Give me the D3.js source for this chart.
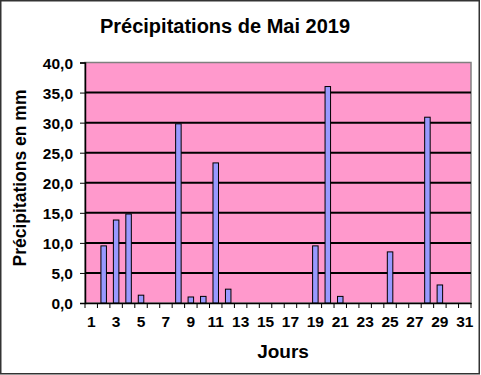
<!DOCTYPE html>
<html>
<head>
<meta charset="utf-8">
<script src="https://cdn.jsdelivr.net/npm/d3@7"></script>
<style>
  body { margin: 0; background: #fff; }
  text { font-family: "Liberation Sans", Arial, sans-serif; font-weight: bold; fill: #000; }
</style>
</head>
<body>
<script>
const days = d3.range(1, 32)
const rain = [0, 9.5, 13.8, 14.8, 1.3, 0, 0, 29.8, 1.0, 1.1, 23.3, 2.3, 0, 0, 0, 0, 0, 0, 9.5, 36.0,
    1.1, 0, 0, 0, 8.5, 0, 0, 30.9, 3.0, 0, 0]
const yTicks = [0, 5, 10, 15, 20, 25, 30, 35, 40]

const w = 481
const h = 375
const plotL = 85, plotR = 471, plotT = 62.5, plotB = 303

const svg = d3.select('body')
    .append('svg')
    .attr('width', w)
    .attr('height', h)

svg.append('rect')
    .attr('x', 0.75).attr('y', 0.75)
    .attr('width', 478.5).attr('height', 373)
    .attr('fill', '#fff')
    .attr('stroke', '#333')
    .attr('stroke-width', 1.5)

const xb = d3.scaleBand().domain(days).range([plotL, plotR])
const y = d3.scaleLinear().domain([0, 40]).range([plotB, plotT])

// plot area
svg.append('rect')
    .attr('x', plotL).attr('y', plotT)
    .attr('width', plotR - plotL).attr('height', plotB - plotT)
    .attr('fill', '#FF99CC')
    .attr('stroke', '#808080')
    .attr('stroke-width', 1.5)

// gridlines
svg.append('g')
    .selectAll('line')
    .data(yTicks.filter(d => d > 0 && d < 40))
    .enter().append('line')
    .attr('x1', plotL).attr('x2', plotR)
    .attr('y1', d => y(d)).attr('y2', d => y(d))
    .attr('stroke', '#000')
    .attr('stroke-width', 2)

// bars
svg.append('g')
    .selectAll('rect')
    .data(days.map((d, i) => ({ day: d, v: rain[i] })).filter(d => d.v > 0))
    .enter().append('rect')
    .attr('x', d => xb(d.day) + xb.bandwidth() / 2 - 2.75)
    .attr('width', 5.5)
    .attr('y', d => y(d.v))
    .attr('height', d => plotB - y(d.v))
    .attr('fill', '#9999FF')
    .attr('stroke', '#000')
    .attr('stroke-width', 1)

// y axis
const yAxis = svg.append('g')
    .attr('transform', `translate(${plotL},0)`)
    .call(d3.axisLeft(y).tickValues(yTicks).tickSize(5).tickPadding(7)
        .tickFormat(d => d3.format('.1f')(d).replace('.', ',')))
yAxis.select('.domain').attr('stroke-width', 1.5)
yAxis.selectAll('text').style('font-size', '15.5px').attr('dy', '0.36em')

// x axis
const xAxis = svg.append('g')
    .attr('transform', `translate(0,${plotB})`)
    .call(d3.axisBottom(xb).tickSize(0).tickPadding(13)
        .tickFormat(d => d % 2 === 1 ? d : ''))
xAxis.select('.domain').attr('stroke-width', 1.5)
xAxis.selectAll('text').style('font-size', '15.5px')
xAxis.selectAll('line.bound')
    .data(d3.range(0, 32))
    .enter().append('line')
    .attr('class', 'bound')
    .attr('x1', d => plotL + d * xb.step()).attr('x2', d => plotL + d * xb.step())
    .attr('y1', 0).attr('y2', 5)
    .attr('stroke', '#000')

svg.append('text')
    .attr('x', 225).attr('y', 33)
    .attr('text-anchor', 'middle')
    .style('font-size', '20px')
    .text('Précipitations de Mai 2019')

svg.append('text')
    .attr('transform', 'translate(25.5,178) rotate(-90)')
    .attr('text-anchor', 'middle')
    .style('font-size', '17.5px')
    .text('Précipitations en mm')

svg.append('text')
    .attr('x', 283).attr('y', 358)
    .attr('text-anchor', 'middle')
    .style('font-size', '19px')
    .text('Jours')
</script>
</body>
</html>
